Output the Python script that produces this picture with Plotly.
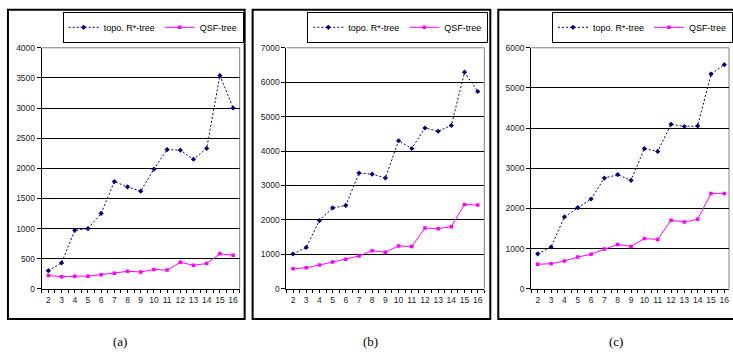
import plotly.graph_objects as go

W, H = 733, 356

x_vals = list(range(2, 17))

topo_a = [300, 430, 970, 1000, 1250, 1780, 1690, 1620, 1985, 2310, 2300, 2150, 2330, 3540, 3000]
qsf_a = [220, 200, 210, 210, 235, 260, 290, 280, 320, 310, 440, 390, 420, 580, 555]

topo_b = [1010, 1200, 1980, 2350, 2420, 3360, 3330, 3220, 4300, 4075, 4670, 4575, 4745, 6290, 5730]
qsf_b = [585, 610, 690, 775, 860, 955, 1105, 1060, 1245, 1225, 1765, 1745, 1805, 2450, 2430]

topo_c = [870, 1040, 1790, 2020, 2235, 2755, 2840, 2700, 3490, 3420, 4095, 4040, 4055, 5345, 5580]
qsf_c = [610, 625, 690, 790, 860, 990, 1105, 1055, 1250, 1230, 1705, 1665, 1730, 2375, 2375]

y_max = [4000, 7000, 6000]
y_step = [500, 1000, 1000]
captions = ["(a)", "(b)", "(c)"]
series_names = ["topo. R*-tree", "QSF-tree"]

# layout geometry (pixels)
plot_x = [(42, 241), (288, 487), (534, 733)]
x_ranges = [[1.5, 16.5], [1.5, 16.5], [1.5, 16.5 - 2 / 13.3]]
plot_top, plot_bot = 44, 292
frames = [(8, 5, 246, 323), (254, 5, 493, 323), (501, 5, 740, 323)]
legend_pos = [63, 309, 555]
caption_x = [121, 373, 619]
caption_y = 346

px = lambda v: v / W
py = lambda v: 1 - v / H

NAVY = "#000080"
MAG = "#FF00FF"
SANS = "Liberation Sans"
SERIF = "Liberation Serif"
TICKFONT = dict(family=SANS, size=8.5, color="#222")

fig = go.Figure()
data = [(topo_a, qsf_a), (topo_b, qsf_b), (topo_c, qsf_c)]
for i, (topo, qsf) in enumerate(data):
    suffix = "" if i == 0 else str(i + 1)
    leg = "legend" + suffix
    fig.add_trace(go.Scatter(
        x=x_vals, y=topo, name=series_names[0], mode="lines+markers",
        line=dict(color=NAVY, width=1, dash="2px,2px"),
        marker=dict(symbol="diamond", size=4, color=NAVY),
        xaxis="x" + suffix, yaxis="y" + suffix, legend=leg))
    fig.add_trace(go.Scatter(
        x=x_vals, y=qsf, name=series_names[1], mode="lines+markers",
        line=dict(color=MAG, width=1),
        marker=dict(symbol="square", size=3.5, color=MAG),
        xaxis="x" + suffix, yaxis="y" + suffix, legend=leg))

layout = dict(
    width=W, height=H, margin=dict(l=0, r=0, t=0, b=0),
    paper_bgcolor="white", plot_bgcolor="white", showlegend=True,
)
shapes = []
annotations = []
for i in range(3):
    suffix = "" if i == 0 else str(i + 1)
    x0, x1 = plot_x[i]
    layout["xaxis" + suffix] = dict(
        domain=[px(x0), px(x1)], range=x_ranges[i], anchor="y" + suffix,
        tickmode="array", tickvals=x_vals, ticktext=[str(v) for v in x_vals],
        showgrid=False, zeroline=False, showline=True, linecolor="black", linewidth=1,
        ticks="outside", ticklen=3, tickcolor="black", tickfont=TICKFONT,
        minor=dict(ticks="outside", ticklen=3, tickcolor="black", tick0=1.5, dtick=1),
        fixedrange=True,
    )
    layout["yaxis" + suffix] = dict(
        domain=[py(plot_bot), py(plot_top)], range=[0, y_max[i]], anchor="x" + suffix,
        tickmode="linear", tick0=0, dtick=y_step[i],
        showgrid=True, gridcolor="black", gridwidth=1, zeroline=False,
        showline=True, linecolor="black", linewidth=1,
        ticks="outside", ticklen=4, tickcolor="black", tickfont=TICKFONT,
        fixedrange=True,
    )
    leg = "legend" + suffix
    layout[leg] = dict(
        x=px(legend_pos[i]), y=py(7), xanchor="left", yanchor="top",
        orientation="h", bordercolor="black", borderwidth=1, bgcolor="white",
        font=dict(family=SANS, size=9, color="black"),
        itemwidth=30, tracegroupgap=0,
    )
    # plot-area border (gray, top and right)
    shapes.append(dict(type="line", xref="paper", yref="paper",
                       x0=px(x0), x1=px(x1), y0=py(plot_top), y1=py(plot_top),
                       line=dict(color="#808080", width=1), layer="below"))
    shapes.append(dict(type="line", xref="paper", yref="paper",
                       x0=px(x1), x1=px(x1), y0=py(plot_top), y1=py(plot_bot),
                       line=dict(color="#808080", width=1), layer="below"))
    fx0, fy0, fx1, fy1 = frames[i]
    shapes.append(dict(type="rect", xref="paper", yref="paper",
                       x0=px(fx0), x1=px(fx1), y0=py(fy1), y1=py(fy0),
                       line=dict(color="black", width=2)))
    annotations.append(dict(text=captions[i], xref="paper", yref="paper",
                            x=px(caption_x[i]), y=py(caption_y), showarrow=False,
                            xanchor="center", yanchor="middle",
                            font=dict(family=SERIF, size=13, color="black")))

layout["shapes"] = shapes
layout["annotations"] = annotations
fig.update_layout(**layout)
fig.write_html("out.html")
